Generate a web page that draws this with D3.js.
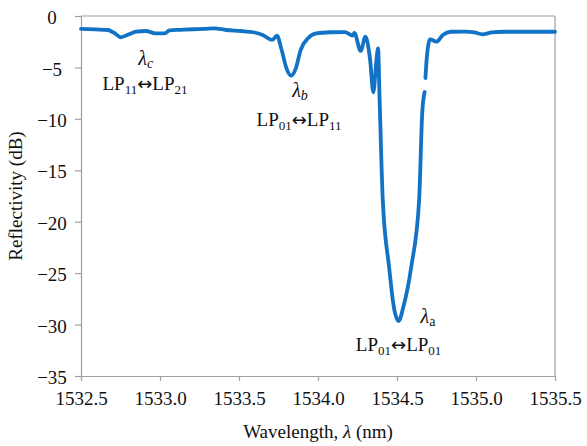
<!DOCTYPE html>
<html>
<head>
<meta charset="utf-8">
<script src="https://cdn.jsdelivr.net/npm/d3@7"></script>
<style>
  body { margin: 0; background: #fff; }
  svg text { font-family: "Liberation Serif", "Times New Roman", serif; fill: #111; }
  svg text tspan.arrow { font-family: "DejaVu Sans", sans-serif; }
</style>
</head>
<body>
<div id="chart"></div>
<script>
// wavelength (nm) and reflectivity (dB); null marks the gap in the trace
const wavelength = [
  1532.50, 1532.59, 1532.67, 1532.72, 1532.75, 1532.80, 1532.85, 1532.91, 1532.97, 1533.03,
  1533.06, 1533.13, 1533.21, 1533.28, 1533.34, 1533.42, 1533.51, 1533.59, 1533.65, 1533.71,
  1533.74, 1533.77, 1533.80, 1533.83, 1533.86, 1533.89, 1533.94, 1533.99, 1534.08, 1534.17,
  1534.22, 1534.23, 1534.27, 1534.30, 1534.33, 1534.35, 1534.37, 1534.38, 1534.39, 1534.41,
  1534.45, 1534.48, 1534.51, 1534.54, 1534.59, 1534.64, 1534.66, 1534.675, 1534.677, 1534.68,
  1534.69, 1534.71, 1534.75, 1534.79, 1534.84, 1534.93, 1534.99, 1535.04, 1535.10, 1535.18,
  1535.34, 1535.50
];
const reflectivity = [
  -1.26, -1.31, -1.36, -1.75, -2.07, -1.80, -1.53, -1.46, -1.68, -1.68,
  -1.39, -1.34, -1.29, -1.26, -1.20, -1.36, -1.46, -1.58, -1.85, -2.33,
  -1.92, -3.31, -5.06, -5.80, -5.06, -3.31, -2.11, -1.68, -1.58, -1.56,
  -1.90, -1.65, -3.40, -2.01, -4.28, -7.42, -4.28, -3.14, -8.17, -17.9,
  -24.4, -28.3, -29.65, -28.3, -24.4, -17.9, -9.33, -7.39, null, -6.03,
  -3.79, -2.27, -2.50, -1.85, -1.53, -1.51, -1.60, -1.78, -1.60, -1.53,
  -1.53, -1.53
];
const xTicks = [1532.5, 1533.0, 1533.5, 1534.0, 1534.5, 1535.0, 1535.5];
const yTicks = [0, -5, -10, -15, -20, -25, -30, -35];

// annotations: where the λ symbol sits and where the mode pair sits (in data units)
const labels = [
  { sw: 1532.91, sdb: -4.75, sym: "c", symItalic: true, mw: 1532.905, mdb: -7.2, from: "11", to: "21" },
  { sw: 1533.886, sdb: -7.9, sym: "b", symItalic: true, mw: 1533.88, mdb: -10.7, from: "01", to: "11" },
  { sw: 1534.696, sdb: -29.8, sym: "a", symItalic: false, mw: 1534.51, mdb: -32.6, from: "01", to: "01" }
];

const width = 587, height = 446;
const margin = { top: 16, right: 32, bottom: 70, left: 81 };
const iw = width - margin.left - margin.right;
const ih = height - margin.top - margin.bottom;

const svg = d3.select("#chart").append("svg")
  .attr("width", width)
  .attr("height", height);

const g = svg.append("g").attr("transform", `translate(${margin.left},${margin.top})`);

const x = d3.scaleLinear().domain([1532.5, 1535.5]).range([0, iw]);
const y = d3.scaleLinear().domain([-35, 0]).range([ih, 0]);

const axisColor = "#a0a0a0";

// frame on top and right
g.append("line").attr("x1", 0).attr("x2", iw).attr("y1", 0).attr("y2", 0)
  .attr("stroke", axisColor).attr("stroke-width", 1.2);
g.append("line").attr("x1", iw).attr("x2", iw).attr("y1", 0).attr("y2", ih)
  .attr("stroke", axisColor).attr("stroke-width", 1.2);

const xAxis = g.append("g")
  .attr("transform", `translate(0,${ih})`)
  .call(d3.axisBottom(x).tickValues(xTicks).tickFormat(d3.format(".1f")).tickSizeInner(5).tickSizeOuter(0).tickPadding(11));
xAxis.select(".domain").attr("stroke", axisColor).attr("stroke-width", 1.2);
xAxis.selectAll(".tick line").attr("stroke", axisColor).attr("stroke-width", 1.2);
xAxis.selectAll(".tick text").attr("font-size", 19).attr("fill", "#111");

const yAxis = g.append("g")
  .call(d3.axisLeft(y).tickValues(yTicks).tickSizeInner(6).tickSizeOuter(0).tickPadding(14));
yAxis.select(".domain").attr("stroke", axisColor).attr("stroke-width", 1.2);
yAxis.selectAll(".tick line").attr("stroke", axisColor).attr("stroke-width", 1.2);
yAxis.selectAll(".tick text").attr("font-size", 19).attr("fill", "#111")
  .attr("text-anchor", "middle").attr("x", -29).attr("dy", "0.4em");

// axis titles
const xt = svg.append("text")
  .attr("x", margin.left + iw / 2)
  .attr("y", 438)
  .attr("text-anchor", "middle")
  .attr("font-size", 19);
xt.append("tspan").text("Wavelength, ");
xt.append("tspan").attr("font-style", "italic").text("λ");
xt.append("tspan").text(" (nm)");

svg.append("text")
  .attr("transform", `translate(22,${margin.top + ih / 2}) rotate(-90)`)
  .attr("text-anchor", "middle")
  .attr("font-size", 19)
  .text("Reflectivity (dB)");

// trace
const pts = wavelength.map((w, i) => ({ w, r: reflectivity[i] }));
const line = d3.line()
  .defined(d => d.r !== null)
  .x(d => x(d.w))
  .y(d => y(d.r))
  .curve(d3.curveMonotoneX);

g.append("path")
  .datum(pts)
  .attr("fill", "none")
  .attr("stroke", "#1272c6")
  .attr("stroke-width", 3.8)
  .attr("stroke-linejoin", "round")
  .attr("stroke-linecap", "round")
  .attr("d", line);

// mode annotations
labels.forEach(l => {
  const t1 = g.append("text").attr("x", x(l.sw)).attr("y", y(l.sdb)).attr("text-anchor", "middle").attr("font-size", 20);
  t1.append("tspan").attr("font-style", "italic").text("λ");
  t1.append("tspan").attr("font-size", 14).attr("dy", 3)
    .attr("font-style", l.symItalic ? "italic" : "normal").text(l.sym);

  const t2 = g.append("text").attr("x", x(l.mw)).attr("y", y(l.mdb)).attr("text-anchor", "middle").attr("font-size", 19);
  t2.append("tspan").text("LP");
  t2.append("tspan").attr("font-size", 13).attr("dy", 4).text(l.from);
  t2.append("tspan").attr("class", "arrow").attr("font-size", 18).attr("dy", -4).text("↔");
  t2.append("tspan").text("LP");
  t2.append("tspan").attr("font-size", 13).attr("dy", 4).text(l.to);
});
</script>
</body>
</html>
